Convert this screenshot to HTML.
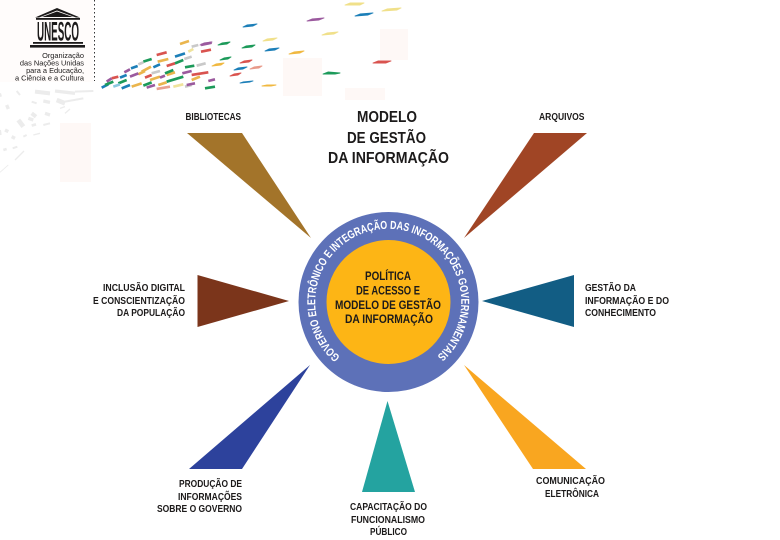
<!DOCTYPE html>
<html><head><meta charset="utf-8"><style>html,body{margin:0;padding:0;background:#fff;width:780px;height:540px;overflow:hidden}svg{display:block}text{font-family:"Liberation Sans",sans-serif;font-weight:bold;fill:#1c1a1a}.n{font-weight:normal}</style></head><body>
<svg width="780" height="540" viewBox="0 0 780 540" xmlns="http://www.w3.org/2000/svg">
<defs><filter id="b" x="-5%" y="-5%" width="110%" height="110%"><feGaussianBlur stdDeviation="0.35"/></filter></defs>
<rect width="780" height="540" fill="#fff"/>
<g fill="#fef8f6"><rect x="0" y="0" width="93" height="82" fill="#fffcfb"/><rect x="283" y="58" width="39" height="38"/><rect x="345" y="88" width="40" height="12"/><rect x="380" y="29" width="28" height="31"/><rect x="60" y="123" width="31" height="59"/></g>
<!-- logo -->
<g fill="#1c1a1a"><path d="M35 17.5L57 8L80 17.5L76 17.5L57 10.5L39 17.5Z"/><path d="M42 17L57 11.500L73 17Z"/><rect x="36" y="18" width="44" height="1.800"/><rect x="33" y="42" width="50" height="1.800"/><rect x="30" y="45" width="55" height="2.600"/></g>
<text x="37" y="40.5" font-size="27" textLength="42" lengthAdjust="spacingAndGlyphs">UNESCO</text>
<g font-size="7.4" text-anchor="end"><text class="n" x="84" y="58">Organização</text><text class="n" x="84" y="65.5">das Nações Unidas</text><text class="n" x="84" y="73">para a Educação,</text><text class="n" x="84" y="80.5">a Ciência e a Cultura</text></g>
<line x1="94.5" y1="0" x2="94.5" y2="81" stroke="#333" stroke-width="1" stroke-dasharray="1.5 2.5"/>
<!-- ribbon right part -->
<g filter="url(#b)" stroke-width="0.9" stroke-linejoin="round">
<g fill="#1d7fb8" stroke="#1d7fb8"><path d="M243 27l4-2 10-1-4 2z"/><path d="M355 16l5-2 13-1-5 2z"/><path d="M265 51l4-2 10-1-4 2z"/><path d="M234 70l4-2 9-1-4 2z"/><path d="M240 83l3-1 10-1-3 1z"/></g>
<g fill="#1e9a5a" stroke="#1e9a5a"><path d="M242 48l4-2 9-1-3 2z"/><path d="M218 45l4-2 8-1-3 2z"/><path d="M323 74l5-2 12 1-5 1z"/><path d="M220 60l4-2 7-1-3 2z"/></g>
<g fill="#9b5a9e" stroke="#9b5a9e"><path d="M307 21l5-2 12-1-5 2z"/><path d="M200 45l4-2 8-1-3 2z"/></g>
<g fill="#d9534f" stroke="#d9534f"><path d="M373 63l5-2 13 0-5 2z"/><path d="M240 63l4-2 8-1-3 2z"/><path d="M230 76l4-2 7-1-3 2z"/></g>
<g fill="#f0b840" stroke="#f0b840"><path d="M289 54l5-2 10-1-4 2z"/><path d="M212 66l4-2 8-1-3 2z"/><path d="M262 86l5-1 9 0-5 1z"/></g>
<g fill="#f0e08a" stroke="#f0e08a"><path d="M345 5l5-2 14 0-4 2z"/><path d="M382 11l5-2 14-1-4 2z"/><path d="M322 35l5-2 11-1-4 2z"/><path d="M263 41l4-2 10-1-4 2z"/></g>
<g fill="#e89a8a" stroke="#e89a8a"><path d="M250 69l4-2 8-1-3 2z"/></g>
</g>
<!-- dense fan -->
<g transform="translate(95 35) scale(.3333)" fill="none" stroke-width="8" filter="url(#b)">
<path stroke="#eab54e" d="M255 27L282 18M188 80L220 72M140 110L168 95M130 118L150 108M215 120L240 112M290 135L315 125M165 135L195 125M110 155L140 145M190 150L215 142"/>
<path stroke="#efe39c" d="M280 50L295 42M235 155L265 148"/>
<path stroke="#c9c9c9" d="M290 35L310 30M130 88L145 82M268 72L290 65M305 92L332 85M170 115L195 108M270 155L290 150"/>
<path stroke="#9b5a9e" d="M318 30L350 23M88 112L105 103M262 115L290 108M105 125L130 115M195 128L210 122M35 140L50 130M155 158L180 150M275 150L300 145M340 138L360 133"/>
<path stroke="#d9534f" d="M185 60L215 52M215 93L240 85M318 50L348 44M150 128L170 120M290 120L340 112M50 130L70 125"/>
<path stroke="#e8a090" d="M185 162L225 155"/>
<path stroke="#1d7fb8" d="M240 65L270 55M108 100L128 93M175 97L195 88M75 128L95 120M80 160L105 150M20 158L40 148"/>
<path stroke="#1e9a5a" d="M145 80L170 72M240 85L265 75M270 97L298 92M210 115L235 105M215 140L265 125M70 145L95 135M30 150L55 140M145 152L170 142M330 160L360 155"/>
<path stroke="#8cc8e0" d="M55 155L75 148"/>
</g>
<!-- gray fade -->
<g transform="translate(0 85) scale(.3333)" fill="none" stroke="#ececec" filter="url(#b)">
<path stroke-width="12" d="M105 20L150 25M95 85L108 95"/>
<path stroke-width="10" d="M165 18L225 25M130 48L150 52M20 60L25 72M85 100L100 105M135 85L150 90M15 135L25 140M35 155L45 160"/>
<path stroke-width="14" d="M170 45L195 55M55 105L70 125"/>
<path stroke-width="6" d="M225 20L280 18M195 50L250 40M95 50L110 55M0 25L3 35M50 18L60 30M130 120L150 115M70 155L80 150M38 190L52 185M0 135L2 150"/>
<path stroke-width="8" d="M95 122L108 118M10 195L20 192"/>
<path stroke-width="4" d="M180 70L195 65M195 85L210 72M100 150L120 145M45 225L72 198"/>
<path stroke-width="2.500" d="M0 262L25 240"/>
</g>
<!-- triangles -->
<polygon points="187,133 242,133 311,238" fill="#a3742a"/>
<polygon points="534,133 587,133 464,238" fill="#a04525"/>
<polygon points="197.5,275 197.5,327 289,301" fill="#7b351b"/>
<polygon points="574,275 574,327 482,301" fill="#125d84"/>
<polygon points="310,365 189,469 242,469" fill="#2d429c"/>
<polygon points="387.5,401 362,492 415,492" fill="#24a3a0"/>
<polygon points="464,365 533,469 586,469" fill="#f9a620"/>
<!-- circle -->
<circle cx="388.5" cy="302" r="90" fill="#5d71b8"/>
<circle cx="388.5" cy="302" r="62" fill="#fdb515"/>
<path id="ring" d="M340.2 356.8A73 73 0 1 1 436 357" fill="none"/>
<text font-size="11.5" style="fill:#fff"><textPath href="#ring" textLength="352" lengthAdjust="spacingAndGlyphs">GOVERNO ELETRÔNICO E INTEGRAÇÃO DAS INFORMAÇÕES GOVERNAMENTAIS</textPath></text>
<!-- center text -->
<text x="365" y="280" font-size="11.500" textLength="46" lengthAdjust="spacingAndGlyphs">POLÍTICA</text>
<text x="356" y="294.5" font-size="11.500" textLength="64" lengthAdjust="spacingAndGlyphs">DE ACESSO E</text>
<text x="335" y="309" font-size="11.500" textLength="106" lengthAdjust="spacingAndGlyphs">MODELO DE GESTÃO</text>
<text x="345" y="323" font-size="11.500" textLength="88" lengthAdjust="spacingAndGlyphs">DA INFORMAÇÃO</text>
<!-- title -->
<text x="357" y="122" font-size="16" textLength="60" lengthAdjust="spacingAndGlyphs">MODELO</text>
<text x="347" y="143" font-size="16" textLength="79" lengthAdjust="spacingAndGlyphs">DE GESTÃO</text>
<text x="328" y="163" font-size="16" textLength="121" lengthAdjust="spacingAndGlyphs">DA INFORMAÇÃO</text>
<!-- labels -->
<g font-size="10.500">
<text x="185.5" y="120" textLength="55.5" lengthAdjust="spacingAndGlyphs">BIBLIOTECAS</text>
<text x="539" y="120" textLength="45.500" lengthAdjust="spacingAndGlyphs">ARQUIVOS</text>
<text x="103" y="291" textLength="82" lengthAdjust="spacingAndGlyphs">INCLUSÃO DIGITAL</text>
<text x="93" y="304" textLength="92" lengthAdjust="spacingAndGlyphs">E CONSCIENTIZAÇÃO</text>
<text x="117" y="316" textLength="68" lengthAdjust="spacingAndGlyphs">DA POPULAÇÃO</text>
<text x="585" y="291" textLength="51" lengthAdjust="spacingAndGlyphs">GESTÃO DA</text>
<text x="585" y="304" textLength="84" lengthAdjust="spacingAndGlyphs">INFORMAÇÃO E DO</text>
<text x="585" y="316" textLength="71" lengthAdjust="spacingAndGlyphs">CONHECIMENTO</text>
<text x="179" y="487" textLength="63" lengthAdjust="spacingAndGlyphs">PRODUÇÃO DE</text>
<text x="178" y="500" textLength="64" lengthAdjust="spacingAndGlyphs">INFORMAÇÕES</text>
<text x="157" y="512" textLength="85" lengthAdjust="spacingAndGlyphs">SOBRE O GOVERNO</text>
<text x="350" y="510" textLength="77" lengthAdjust="spacingAndGlyphs">CAPACITAÇÃO DO</text>
<text x="351" y="523" textLength="74" lengthAdjust="spacingAndGlyphs">FUNCIONALISMO</text>
<text x="370" y="535" textLength="37" lengthAdjust="spacingAndGlyphs">PÚBLICO</text>
<text x="536" y="484" textLength="69" lengthAdjust="spacingAndGlyphs">COMUNICAÇÃO</text>
<text x="545" y="497" textLength="54" lengthAdjust="spacingAndGlyphs">ELETRÔNICA</text>
</g>
</svg>
</body></html>
